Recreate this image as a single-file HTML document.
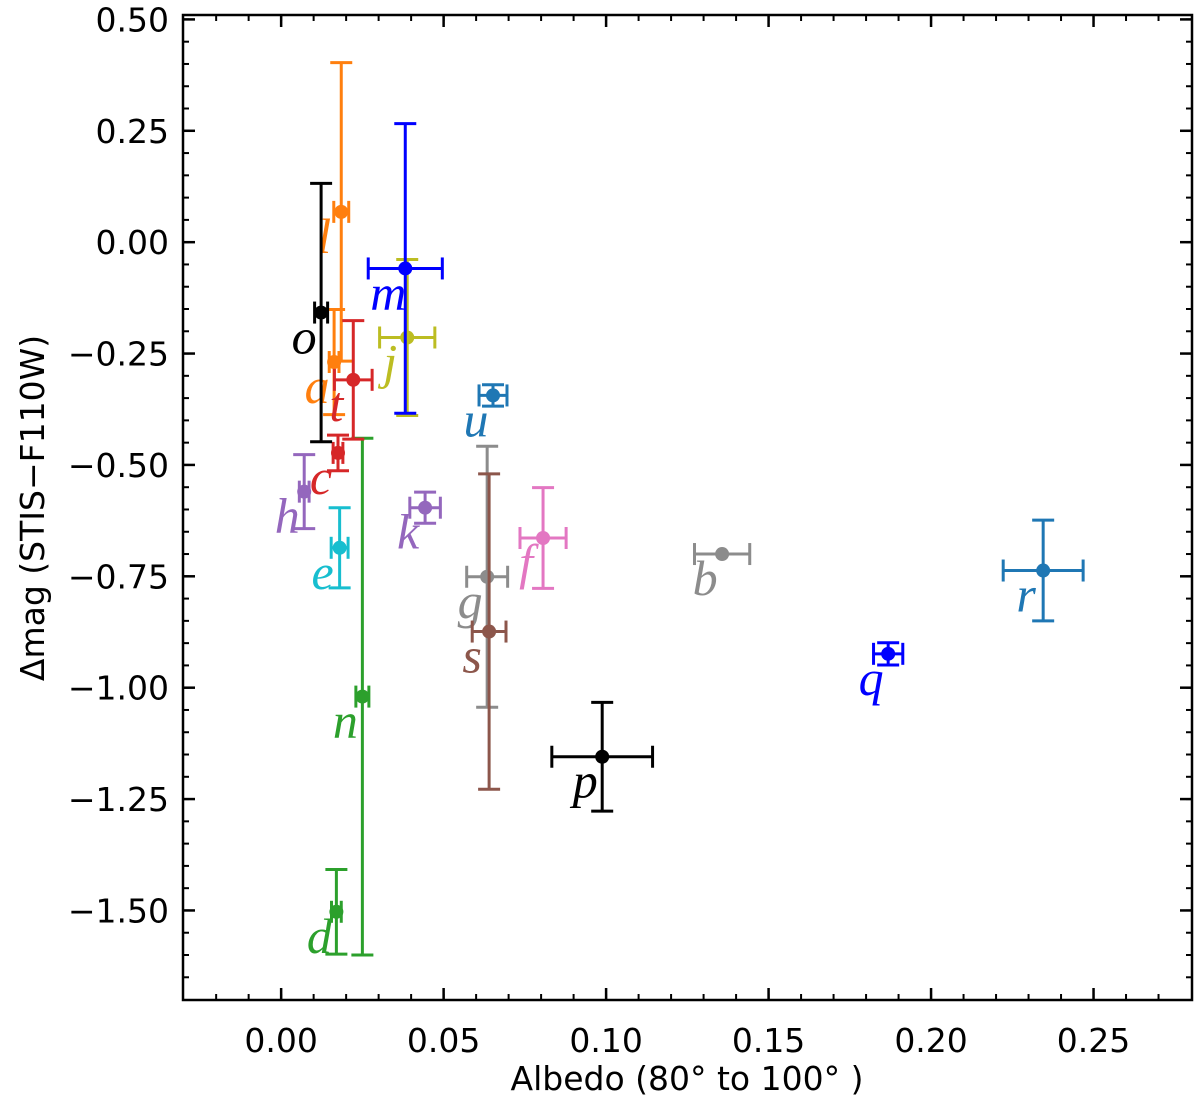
<!DOCTYPE html>
<html><head><meta charset="utf-8"><style>
html,body{margin:0;padding:0;background:#fff;}
svg{display:block;}
</style></head><body>
<svg id="chart" width="1200" height="1100" viewBox="0 0 1200 1100" xmlns="http://www.w3.org/2000/svg">
<g id="marks"></g>
<g id="axes"></g>
</svg>
<script>
const labels = ["a","b","c","d","e","f","g","h","j","k","l","m","n","o","p","q","r","s","t","u"];
const albedo = [0.0163,0.1357,0.0175,0.0170,0.0180,0.0806,0.0634,0.0071,0.0388,0.0443,0.0185,0.0382,0.0250,0.0123,0.0988,0.1868,0.2345,0.0640,0.0222,0.0652];
const albedoErr = [0.0015,0.0085,0.0015,0.0015,0.0026,0.0071,0.0063,0.0015,0.0085,0.0047,0.0023,0.0114,0.0020,0.0020,0.0155,0.0045,0.0123,0.0052,0.0058,0.0043];
const dmag = [-0.269,-0.700,-0.473,-1.503,-0.686,-0.664,-0.751,-0.560,-0.214,-0.596,0.068,-0.059,-1.020,-0.158,-1.155,-0.924,-0.737,-0.874,-0.309,-0.344];
const dmagErr = [0.118,0.0,0.040,0.095,0.090,0.113,0.293,0.083,0.175,0.035,0.335,0.325,0.580,0.290,0.122,0.025,0.113,0.354,0.133,0.024];
const colors = ["#ff7f0e","#8c8c8c","#d62728","#2ca02c","#17becf","#e377c2","#8c8c8c","#9467bd","#bcbd22","#9467bd","#ff7f0e","#0000ff","#2ca02c","#000000","#000000","#0000ff","#1f77b4","#8c564b","#d62728","#1f77b4"];
const xTicks = [0.00,0.05,0.10,0.15,0.20,0.25];
const xTickLabels = ["0.00","0.05","0.10","0.15","0.20","0.25"];
const yTicks = [0.50,0.25,0.00,-0.25,-0.50,-0.75,-1.00,-1.25,-1.50];
const yTickLabels = ["0.50","0.25","0.00","−0.25","−0.50","−0.75","−1.00","−1.25","−1.50"];

const L=183,R=1192,T=15,B=1000;
const xmin=-0.0302,xmax=0.2803,ymin=-1.701,ymax=0.5099;
const X=v=>L+(v-xmin)/(xmax-xmin)*(R-L);
const Y=v=>B-(v-ymin)/(ymax-ymin)*(B-T);
const NS="http://www.w3.org/2000/svg";
function mk(tag,attrs,parent){const e=document.createElementNS(NS,tag);for(const k in attrs)e.setAttribute(k,attrs[k]);parent.appendChild(e);return e;}
const marks=document.getElementById('marks');
const axes=document.getElementById('axes');

labels.forEach((lab,i)=>{
  const g=mk('g',{},marks);
  
  
  const cx=X(albedo[i]),cy=Y(dmag[i]),c=colors[i];
  const x1=X(albedo[i]-albedoErr[i]),x2=X(albedo[i]+albedoErr[i]);
  const y1=Y(dmag[i]+dmagErr[i]),y2=Y(dmag[i]-dmagErr[i]);
  const st={stroke:c,'stroke-width':3,fill:'none'};
  mk('line',Object.assign({x1:x1,y1:cy,x2:x2,y2:cy},st),g);
  mk('line',Object.assign({x1:x1,y1:cy-11,x2:x1,y2:cy+11},st),g);
  mk('line',Object.assign({x1:x2,y1:cy-11,x2:x2,y2:cy+11},st),g);
  mk('line',Object.assign({x1:cx,y1:y1,x2:cx,y2:y2},st),g);
  mk('line',Object.assign({x1:cx-11,y1:y1,x2:cx+11,y2:y1},st),g);
  mk('line',Object.assign({x1:cx-11,y1:y2,x2:cx+11,y2:y2},st),g);
  mk('circle',{cx:cx,cy:cy,r:7,fill:c},g);
  const t=mk('text',{x:cx-17,y:cy+41,fill:c,'font-family':'"Liberation Serif",serif','font-style':'italic','font-size':50,'text-anchor':'middle'},g);
  t.textContent=lab;
  
  
});

const fr=mk('rect',{x:L,y:T,width:R-L,height:B-T,fill:'none',stroke:'#000','stroke-width':2.5},axes);


for(let k=-3;k<=28;k++){const v=k/100,px=X(v);if(px<L+1||px>R-1)continue;
  mk('line',{x1:px,y1:B,x2:px,y2:B-6,stroke:'#000','stroke-width':2},axes);
  mk('line',{x1:px,y1:T,x2:px,y2:T+6,stroke:'#000','stroke-width':2},axes);}
for(let k=-34;k<=10;k++){const v=k*0.05,py=Y(v);if(py<T+1||py>B-1)continue;
  mk('line',{x1:L,y1:py,x2:L+6,y2:py,stroke:'#000','stroke-width':2},axes);
  mk('line',{x1:R,y1:py,x2:R-6,y2:py,stroke:'#000','stroke-width':2},axes);}
xTicks.forEach((v,i)=>{const px=X(v);
  mk('line',{x1:px,y1:B,x2:px,y2:B-12,stroke:'#000','stroke-width':2.5},axes);
  mk('line',{x1:px,y1:T,x2:px,y2:T+12,stroke:'#000','stroke-width':2.5},axes);
  const t=mk('text',{x:px,y:1052,'font-family':'"DejaVu Sans","Liberation Sans",sans-serif','font-size':33,'text-anchor':'middle',fill:'#000'},axes);
  t.textContent=xTickLabels[i];
  
  });
yTicks.forEach((v,i)=>{const py=Y(v);
  mk('line',{x1:L,y1:py,x2:L+12,y2:py,stroke:'#000','stroke-width':2.5},axes);
  mk('line',{x1:R,y1:py,x2:R-12,y2:py,stroke:'#000','stroke-width':2.5},axes);
  const t=mk('text',{x:169,y:py+12,'font-family':'"DejaVu Sans","Liberation Sans",sans-serif','font-size':33,'text-anchor':'end',fill:'#000'},axes);
  t.textContent=yTickLabels[i];
  
  });
const xt=mk('text',{x:687,y:1090,'font-family':'"DejaVu Sans","Liberation Sans",sans-serif','font-size':33,'text-anchor':'middle',fill:'#000'},axes);
xt.textContent='Albedo (80° to 100° )';


const yt=mk('text',{x:0,y:0,transform:'translate(44,508) rotate(-90)','font-family':'"DejaVu Sans","Liberation Sans",sans-serif','font-size':33,'text-anchor':'middle',fill:'#000'},axes);
yt.textContent='Δmag (STIS−F110W)';


</script>
</body></html>
